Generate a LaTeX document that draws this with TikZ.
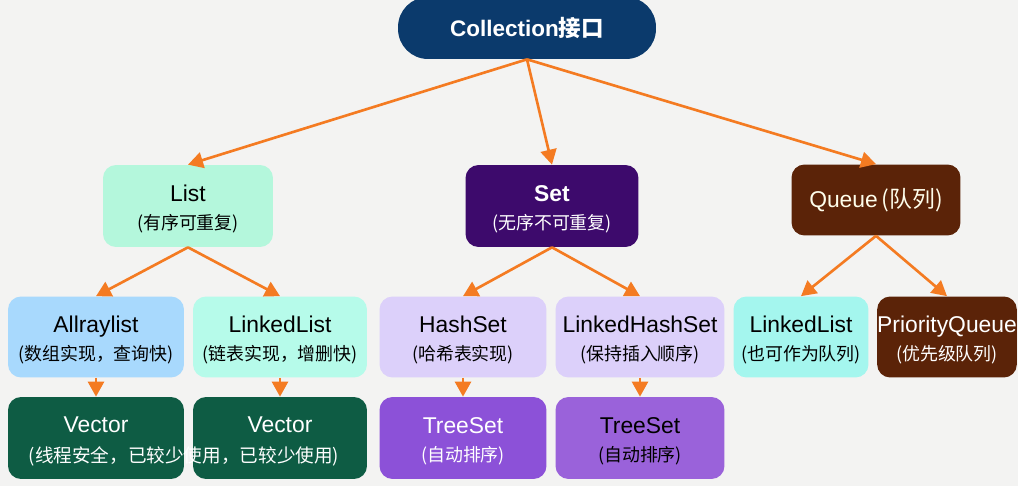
\documentclass[tikz,border=0pt]{standalone}
\usepackage{fontspec}
\setmainfont{Liberation Sans}
\newfontfamily\cjk{Noto Sans CJK SC}
\usetikzlibrary{arrows.meta}
\definecolor{bgpaper}{HTML}{F3F3F2}
\definecolor{linkorange}{HTML}{F47B22}
\definecolor{rootnavy}{HTML}{0B3A6C}
\definecolor{listmint}{HTML}{B4F7DC}
\definecolor{setpurple}{HTML}{3D0A6C}
\definecolor{queuebrown}{HTML}{5B2308}
\definecolor{arrblue}{HTML}{A8D9FD}
\definecolor{linkcyan}{HTML}{B6FBEA}
\definecolor{hashlav}{HTML}{DCD0FA}
\definecolor{qcyan}{HTML}{A4F6EE}
\definecolor{vecgreen}{HTML}{0E5C44}
\definecolor{treeviolet}{HTML}{8C51D8}
\definecolor{treeviolet2}{HTML}{9A62DA}
\newcommand{\headline}[1]{\rule{0pt}{12.8pt}#1}
\newcommand{\subline}[1]{{\cjk\fontsize{10.2}{13}\selectfont #1}}

\begin{document}
\begin{tikzpicture}[x=0.02cm, y=-0.02cm,
    box/.style={rectangle, rounded corners=2.6mm, fill=#1, minimum height=16.4mm, inner sep=0pt, align=center, font=\fontsize{13}{16}\selectfont},
    link/.style={draw=linkorange, line width=1.5pt, -{Triangle[length=3mm, width=3.2mm]}}
]
\fill[bgpaper] (0,0) rectangle (1018,486);
\useasboundingbox (0,0) rectangle (1018,486);

% Root
\node[box=rootnavy, rounded corners=6mm, minimum width=51.6mm, minimum height=12.4mm, text=white, font=\fontsize{12.8}{15}\selectfont\bfseries] (coll) at (527,28) {Collection{\cjk 接口}};

% Second level
\node[box=listmint, minimum width=34mm] (list) at (188,206) {\headline{List}\\\subline{(有序可重复)}};
\node[box=setpurple, minimum width=34.6mm, text=white] (set) at (552,206) {\headline{\textbf{Set}}\\\subline{(无序不可重复)}};
\node[box=queuebrown, minimum width=33.8mm, minimum height=14.2mm, text=white!92!yellow] (queue) at (876,200) {Queue\,{\cjk (队列)}};

% Third level
\node[box=arrblue, minimum width=35.2mm, minimum height=16.2mm] (arr) at (96,337) {\headline{Allraylist}\\\subline{(数组实现，查询快)}};
\node[box=linkcyan, minimum width=34.8mm, minimum height=16.2mm] (linked) at (280,337) {\headline{LinkedList}\\\subline{(链表实现，增删快)}};
\node[box=hashlav, minimum width=33.4mm, minimum height=16.2mm] (hash) at (463,337) {\headline{HashSet}\\\subline{(哈希表实现)}};
\node[box=hashlav, minimum width=33.8mm, minimum height=16.2mm] (lhash) at (640,337) {\headline{LinkedHashSet}\\\subline{(保持插入顺序)}};
\node[box=qcyan, minimum width=27mm, minimum height=16.2mm] (qlinked) at (801,337) {\headline{LinkedList}\\\subline{(也可作为队列)}};
\node[box=queuebrown, minimum width=27.6mm, minimum height=16.2mm, text=white] (prio) at (947,337) {\headline{PriorityQueue}\\\subline{(优先级队列)}};

% Fourth level
\node[box=vecgreen, minimum width=35.2mm, text=white, text height=9pt, text depth=15.4pt] (vec1) at (96,438) {Vector};
\node[box=vecgreen, minimum width=34.8mm, text=white, text height=9pt, text depth=15.4pt] (vec2) at (280,438) {Vector};
\node[text=white, inner sep=0pt, font=\fontsize{10.6}{13}\selectfont] (vecnote) at (184,456) {{\cjk (线程安全，已较少使用，已较少使用)}};
\node[box=treeviolet, minimum width=33.4mm, text=white] (tree1) at (463,438) {\headline{TreeSet}\\\subline{(自动排序)}};
\node[box=treeviolet2, minimum width=33.8mm] (tree2) at (640,438) {\headline{TreeSet}\\\subline{(自动排序)}};

% Connectors
\draw[link] (coll.south) -- (list.north);
\draw[link] (coll.south) -- (set.north);
\draw[link] (coll.south) -- (queue.north);
\draw[link] (list.south) -- (arr.north);
\draw[link] (list.south) -- (linked.north);
\draw[link] (set.south) -- (hash.north);
\draw[link] (set.south) -- (lhash.north);
\draw[link] (queue.south) -- (qlinked.north);
\draw[link] (queue.south) -- (prio.north);
\draw[link] (arr.south) -- (vec1.north);
\draw[link] (linked.south) -- (vec2.north);
\draw[link] (hash.south) -- (tree1.north);
\draw[link] (lhash.south) -- (tree2.north);

\end{tikzpicture}
\end{document}
